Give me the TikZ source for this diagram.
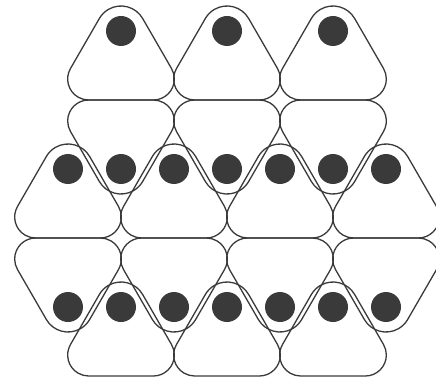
\documentclass[tikz,border=0pt]{standalone}
\usepackage{xcolor}
\usepackage{tikz}
\definecolor{ink}{HTML}{3A3A3A}

\begin{document}
\begin{tikzpicture}[x=1pt, y=1pt,
        tri line/.style={draw=ink, line width=1.3pt, line join=round},
        tri/.pic={
            \draw[tri line] (30:25) arc[start angle=30, end angle=150, radius=25]
                -- (-50.52,-37.5) arc[start angle=150, end angle=270, radius=21]
                -- (32.33,-69) arc[start angle=270, end angle=390, radius=21]
                -- cycle;
            \fill[ink] (0,0) circle (15);
        }]
        \useasboundingbox (0,0) rectangle (436,378);

        % rows pointing up
        \foreach \x in {121,227,333}
            \pic at (\x,347) {tri};
        \foreach \x in {68,174,280,386}
            \pic at (\x,209) {tri};
        \foreach \x in {121,227,333}
            \pic at (\x,71) {tri};

        % rows pointing down
        \foreach \x in {121,227,333}
            \pic[rotate=180] at (\x,209) {tri};
        \foreach \x in {68,174,280,386}
            \pic[rotate=180] at (\x,71) {tri};

    \end{tikzpicture}
\end{document}
